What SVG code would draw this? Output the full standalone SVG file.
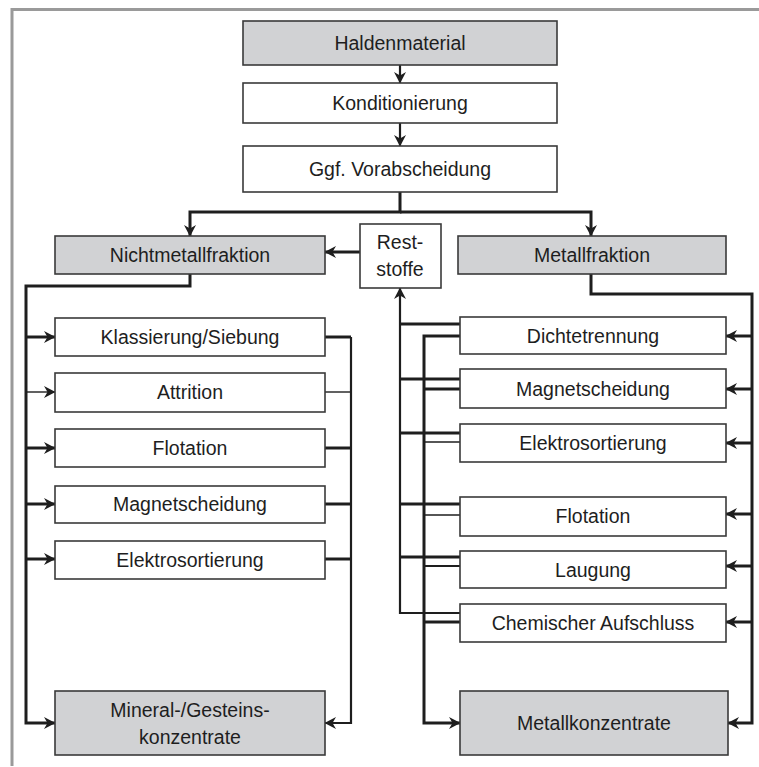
<svg xmlns="http://www.w3.org/2000/svg" width="759" height="767" viewBox="0 0 759 767">
<style>
.box{fill:#ffffff;stroke:#3a3a3a;stroke-width:1.6}
.grey{fill:#d1d2d4;stroke:#3a3a3a;stroke-width:1.6}
.t{font-family:"Liberation Sans",Arial,sans-serif;font-size:19.5px;fill:#1e1e1e;text-anchor:middle}
.c{fill:none;stroke:#1e1e1e;stroke-linejoin:miter}
.k{stroke-width:3}
.m{stroke-width:2.2}
.n{stroke-width:1.4}
.frame{fill:none;stroke:#9a9a9a;stroke-width:3}
</style>
<defs>
<marker id="ah" viewBox="-13 -7 14 14" refX="0" refY="0" markerWidth="14" markerHeight="14" markerUnits="userSpaceOnUse" orient="auto">
<path d="M0.5,0 L-11,-6 L-7.5,0 L-11,6 Z" fill="#1e1e1e"/>
</marker>
</defs>
<path class="frame" d="M12,766 V9.5 H759"/>

<g id="connectors">
<path class="c m" d="M400,65 V83" marker-end="url(#ah)"/>
<path class="c m" d="M400,123 V146" marker-end="url(#ah)"/>
<path class="c k" d="M400,192 V212 H190 V236" marker-end="url(#ah)"/>
<path class="c k" d="M400,212 H591 V236" marker-end="url(#ah)"/>
<path class="c k" d="M360,252 H325" marker-end="url(#ah)"/>
<path class="c k" d="M190,274 V286 H26 V723 H55" marker-end="url(#ah)"/>
<path class="c k" d="M26,337 H55" marker-end="url(#ah)"/>
<path class="c n" d="M26,392 H55" marker-end="url(#ah)"/>
<path class="c k" d="M26,448 H55" marker-end="url(#ah)"/>
<path class="c k" d="M26,504 H55" marker-end="url(#ah)"/>
<path class="c k" d="M26,559 H55" marker-end="url(#ah)"/>
<path class="c k" d="M325,337 H351"/>
<path class="c n" d="M325,392 H351"/>
<path class="c k" d="M325,448 H351"/>
<path class="c k" d="M325,504 H351"/>
<path class="c k" d="M325,559 H351"/>
<path class="c m" d="M351,337 V723 H325" marker-end="url(#ah)"/>
<path class="c k" d="M591,274 V294 H752 V723 H728" marker-end="url(#ah)"/>
<path class="c k" d="M752,336 H726" marker-end="url(#ah)"/>
<path class="c k" d="M752,389 H726" marker-end="url(#ah)"/>
<path class="c k" d="M752,443 H726" marker-end="url(#ah)"/>
<path class="c k" d="M752,514 H726" marker-end="url(#ah)"/>
<path class="c k" d="M752,566 H726" marker-end="url(#ah)"/>
<path class="c k" d="M752,622 H726" marker-end="url(#ah)"/>
<path class="c k" d="M460,324 H400"/>
<path class="c k" d="M460,379 H400"/>
<path class="c k" d="M460,433 H400"/>
<path class="c k" d="M460,504 H400"/>
<path class="c k" d="M460,557 H400"/>
<path class="c m" d="M460,613 H400 V288" marker-end="url(#ah)"/>
<path class="c k" d="M460,336 H424 V723 H460" marker-end="url(#ah)"/>
<path class="c k" d="M460,389 H424"/>
<path class="c n" d="M460,442 H424"/>
<path class="c n" d="M460,515 H424"/>
<path class="c m" d="M460,566 H424"/>
<path class="c k" d="M460,622 H424"/>
</g>

<g id="haldenmaterial"><rect class="grey" x="243" y="21" width="314" height="44"/><text class="t" x="400" y="50">Haldenmaterial</text></g>
<g id="konditionierung"><rect class="box" x="243" y="83" width="314" height="40"/><text class="t" x="400" y="110">Konditionierung</text></g>
<g id="vorabscheidung"><rect class="box" x="243" y="146" width="314" height="46"/><text class="t" x="400" y="176">Ggf. Vorabscheidung</text></g>
<g id="nichtmetallfraktion"><rect class="grey" x="55" y="236" width="270" height="38"/><text class="t" x="190" y="262">Nichtmetallfraktion</text></g>
<g id="metallfraktion"><rect class="grey" x="458" y="236" width="268" height="38"/><text class="t" x="592" y="262">Metallfraktion</text></g>
<g id="reststoffe"><rect class="box" x="360" y="224" width="81" height="64"/><text class="t" x="400" y="249">Rest-</text><text class="t" x="400" y="276">stoffe</text></g>

<g id="klassierung"><rect class="box" x="55" y="318" width="270" height="38"/><text class="t" x="190" y="344">Klassierung/Siebung</text></g>
<g id="attrition"><rect class="box" x="55" y="373" width="270" height="39"/><text class="t" x="190" y="399">Attrition</text></g>
<g id="flotation-l"><rect class="box" x="55" y="429" width="270" height="38"/><text class="t" x="190" y="455">Flotation</text></g>
<g id="magnetscheidung-l"><rect class="box" x="55" y="486" width="270" height="37"/><text class="t" x="190" y="511">Magnetscheidung</text></g>
<g id="elektrosortierung-l"><rect class="box" x="55" y="541" width="270" height="38"/><text class="t" x="190" y="567">Elektrosortierung</text></g>
<g id="mineralkonzentrate"><rect class="grey" x="55" y="691" width="270" height="64"/><text class="t" x="190" y="717">Mineral-/Gesteins-</text><text class="t" x="190" y="744">konzentrate</text></g>

<g id="dichtetrennung"><rect class="box" x="460" y="317" width="266" height="37"/><text class="t" x="593" y="343">Dichtetrennung</text></g>
<g id="magnetscheidung-r"><rect class="box" x="460" y="369" width="266" height="39"/><text class="t" x="593" y="396">Magnetscheidung</text></g>
<g id="elektrosortierung-r"><rect class="box" x="460" y="424" width="266" height="38"/><text class="t" x="593" y="450">Elektrosortierung</text></g>
<g id="flotation-r"><rect class="box" x="460" y="497" width="266" height="39"/><text class="t" x="593" y="523">Flotation</text></g>
<g id="laugung"><rect class="box" x="460" y="551" width="266" height="37"/><text class="t" x="593" y="577">Laugung</text></g>
<g id="aufschluss"><rect class="box" x="460" y="604" width="266" height="38"/><text class="t" x="593" y="630">Chemischer Aufschluss</text></g>
<g id="metallkonzentrate"><rect class="grey" x="460" y="691" width="268" height="64"/><text class="t" x="594" y="730">Metallkonzentrate</text></g>
</svg>
